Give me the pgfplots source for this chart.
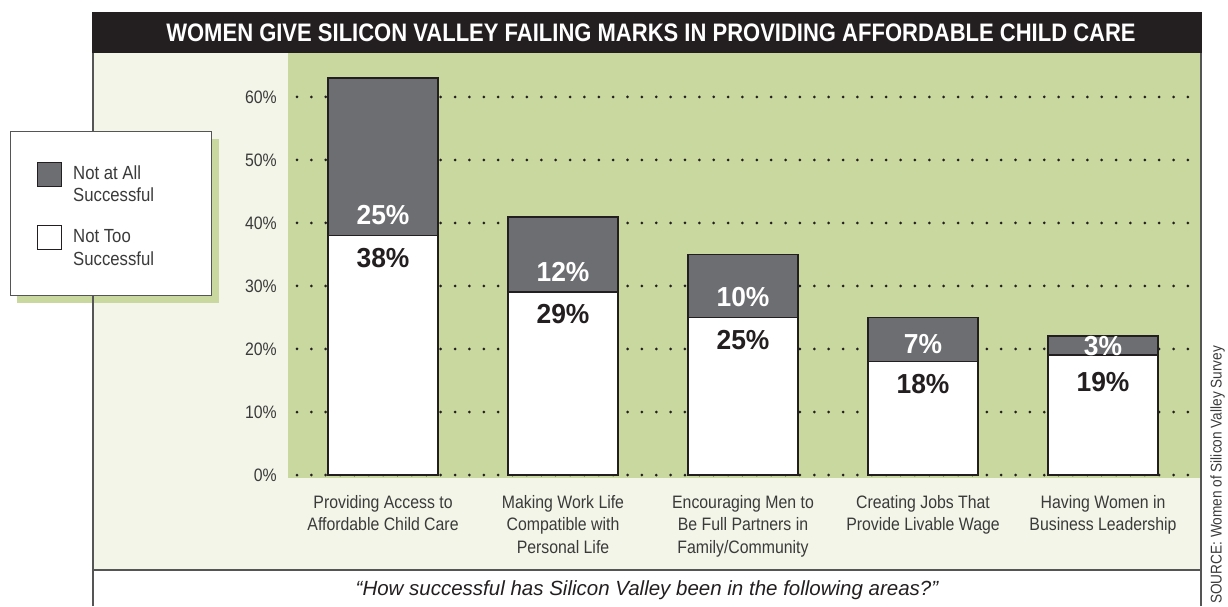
\documentclass[border=0pt]{standalone}
\usepackage{pgfplots}
\pgfplotsset{compat=1.18}
\usepackage{fontspec}
\setmainfont{Liberation Sans}[FakeStretch=0.88]
\newfontfamily\titlefont{Liberation Sans}[FakeStretch=0.87]
\newfontfamily\numfont{Liberation Sans}[FakeStretch=0.96]
\newfontfamily\capfont{Liberation Sans}
\definecolor{bggreen}{RGB}{200,216,158}
\definecolor{cream}{RGB}{243,245,232}
\definecolor{barblack}{RGB}{35,31,32}
\definecolor{bargray}{RGB}{109,110,113}
\definecolor{txtgray}{RGB}{58,58,58}
\definecolor{framegray}{RGB}{85,85,85}
\begin{document}
\begin{tikzpicture}[x=1pt,y=1pt]
\useasboundingbox (0,0) rectangle (1228,606);
\clip (0,0) rectangle (1228,606);
\fill[cream] (93,36) rectangle (1201,553);
\fill[bggreen] (17,303) rectangle (219,467);
\draw[framegray, line width=1.5pt] (93,0) -- (93,593) (1201,0) -- (1201,593) (93,36) -- (1201,36);
\fill[barblack] (92.25,553) rectangle (1201.75,593.5);
\node[text=white, font={\titlefont\fontsize{25.3}{30}\selectfont\bfseries}] at (651,573) {WOMEN GIVE SILICON VALLEY FAILING MARKS IN PROVIDING AFFORDABLE CHILD CARE};
\begin{axis}[
  at={(288pt,128pt)}, anchor=south west,
  scale only axis, width=912pt, height=425pt,
  xmin=-0.528, xmax=4.539, ymin=-0.476, ymax=66.98,
  axis background/.style={fill=bggreen},
  axis line style={draw=none},
  tick style={draw=none},
  major tick length=0pt,
  ybar, bar width=110pt,
  xtick={0,1,2,3,4},
  xticklabels={{Providing Access to\\Affordable Child Care},{Making Work Life\\Compatible with\\Personal Life},{Encouraging Men to\\Be Full Partners in\\Family/Community},{Creating Jobs That\\Provide Livable Wage},{Having Women in\\Business Leadership}},
  xticklabel style={align=center, anchor=north, inner sep=0pt, yshift=-17pt, font={\fontsize{18}{22.5}\selectfont}, text=txtgray},
  ytick={0,10,20,30,40,50,60},
  yticklabels={0\%,10\%,20\%,30\%,40\%,50\%,60\%},
  yticklabel style={anchor=east, inner sep=0pt, xshift=-11pt, font={\fontsize{18}{22}\selectfont}, text=txtgray},
  ymajorgrids,
  major grid style={draw=barblack, line width=3pt, line cap=round, dash pattern=on 0pt off 14.37pt, dash phase=5.37pt},
  legend style={at={(axis description cs:-0.3048,0.8165)}, anchor=north west, draw=framegray, line width=1.3pt, fill=white,
    font={\fontsize{19}{22.5}\selectfont}, text=txtgray, inner xsep=26pt, inner ysep=30pt, row sep=23pt,
    cells={anchor=west, inner sep=0pt},
    /tikz/every odd column/.append style={column sep=9pt}},
  legend cell align=left,
  legend image code/.code={\draw[#1, line width=1.3pt] (0pt,-13pt) rectangle (24pt,11pt); \path (0pt,-28pt);},
  clip=false,
]
\addplot[fill=bargray, draw=barblack, line width=1.8pt, bar shift=0pt] coordinates {(0,63) (1,41) (2,35) (3,25) (4,22)};
\addlegendentry{\parbox[t]{110pt}{Not at All\\Successful}}
\addplot[fill=white, draw=barblack, line width=1.8pt, bar shift=0pt] coordinates {(0,38) (1,29) (2,25) (3,18) (4,19)};
\addlegendentry{\parbox[t]{110pt}{Not Too\\Successful}}
\addplot[forget plot, draw=none, fill=none, bar shift=0pt, point meta=explicit symbolic, nodes near coords,
  every node near coord/.append style={anchor=center, text=white, inner sep=0pt, font={\numfont\fontsize{27.5}{30}\selectfont\bfseries}}]
  coordinates {(0,41.2)[25\%] (1,32.2)[12\%] (2,28.2)[10\%] (3,20.8)[7\%] (4,20.4)[3\%]};
\addplot[forget plot, draw=none, fill=none, bar shift=0pt, point meta=explicit symbolic, nodes near coords,
  every node near coord/.append style={anchor=center, text=barblack, inner sep=0pt, font={\numfont\fontsize{27.5}{30}\selectfont\bfseries}}]
  coordinates {(0,34.5)[38\%] (1,25.5)[29\%] (2,21.5)[25\%] (3,14.5)[18\%] (4,14.8)[19\%]};
\end{axis}
\node[text=barblack, font={\capfont\fontsize{20.5}{24}\selectfont\itshape}] at (647,16) {“How successful has Silicon Valley been in the following areas?”};
\node[rotate=90, anchor=south west, inner sep=0pt, text=txtgray, font={\fontsize{15.5}{19}\selectfont}] at (1225,2) {SOURCE: Women of Silicon Valley Survey};
\end{tikzpicture}
\end{document}
